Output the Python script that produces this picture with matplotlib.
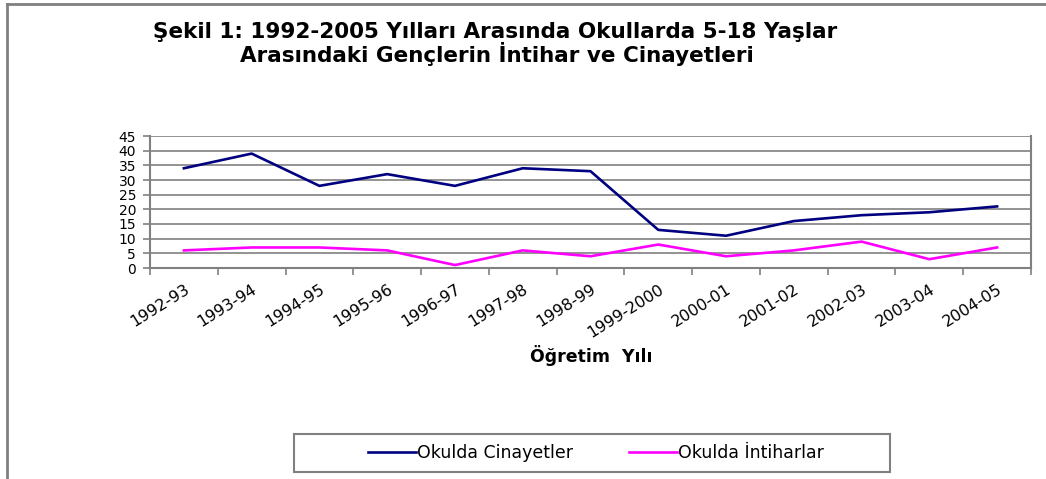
import matplotlib.pyplot as plt
from matplotlib.lines import Line2D
from matplotlib.patches import Rectangle
import numpy as np

plt.rcParams['font.family'] = ['DejaVu Sans']

yillar = ['1992-93', '1993-94', '1994-95', '1995-96', '1996-97', '1997-98',
          '1998-99', '1999-2000', '2000-01', '2001-02', '2002-03', '2003-04',
          '2004-05']
cinayetler = [34, 39, 28, 32, 28, 34, 33, 13, 11, 16, 18, 19, 21]
intiharlar = [6, 7, 7, 6, 1, 6, 4, 8, 4, 6, 9, 3, 7]

W, H = 1046, 479
fig = plt.figure(figsize=(W / 100, H / 100), dpi=100)
ax = fig.add_axes([150 / W, 1 - 268 / H, 881 / W, 132 / H])

x = np.arange(len(yillar))
ax.plot(x, cinayetler, color='#000080', linewidth=1.9, label='Okulda Cinayetler')
ax.plot(x, intiharlar, color='#FF00FF', linewidth=1.9, label='Okulda İntiharlar')

ax.set_xlim(-0.5, len(yillar) - 0.5)
ax.set_ylim(0, 45)
ax.set_yticks(range(0, 50, 5))
ax.yaxis.grid(True, color='#808080', linewidth=1.2)
ax.set_axisbelow(True)

ax.set_xticks(x)
ax.set_xticklabels(yillar, rotation=32, ha='right', rotation_mode='anchor', fontsize=11.5)
ax.tick_params(axis='x', which='major', length=0, pad=10)
ax.set_xticks(np.arange(-0.5, len(yillar)), minor=True)
ax.tick_params(axis='x', which='minor', length=5, color='#808080', width=1.2)
ax.tick_params(axis='y', length=5, color='#808080', width=1.2, labelsize=10, pad=5)

for s in ['left', 'bottom', 'right']:
    ax.spines[s].set_color('#808080')
    ax.spines[s].set_linewidth(1.5)
ax.spines['top'].set_visible(False)

fig.text(495 / W, 1 - 32 / H, 'Şekil 1: 1992-2005 Yılları Arasında Okullarda 5-18 Yaşlar',
         ha='center', va='center', fontsize=15.5, fontweight='bold')
fig.text(497 / W, 1 - 54 / H, 'Arasındaki Gençlerin İntihar ve Cinayetleri',
         ha='center', va='center', fontsize=15.5, fontweight='bold')
fig.text(591 / W, 1 - 355 / H, 'Öğretim  Yılı', ha='center', va='center',
         fontsize=12.5, fontweight='bold')

# legend box drawn separately so its size matches the reference
fig.add_artist(Rectangle((294 / W, 1 - 472 / H), 596 / W, 38 / H, transform=fig.transFigure,
                         facecolor='white', edgecolor='#808080', linewidth=1.5))
fig.legend(loc='center', bbox_to_anchor=(596 / W, 1 - 453 / H), ncol=2, frameon=False,
           fontsize=12.5, handlelength=2.8, handletextpad=0.05, columnspacing=3.2,
           borderaxespad=0, borderpad=0)

# outer frame (left and top edges)
fig.add_artist(Line2D([7 / W, 7 / W], [0, 1 - 4 / H], color='#808080', linewidth=2))
fig.add_artist(Line2D([7 / W, 1], [1 - 4 / H, 1 - 4 / H], color='#808080', linewidth=2))

fig.savefig('out.png', dpi=100)
